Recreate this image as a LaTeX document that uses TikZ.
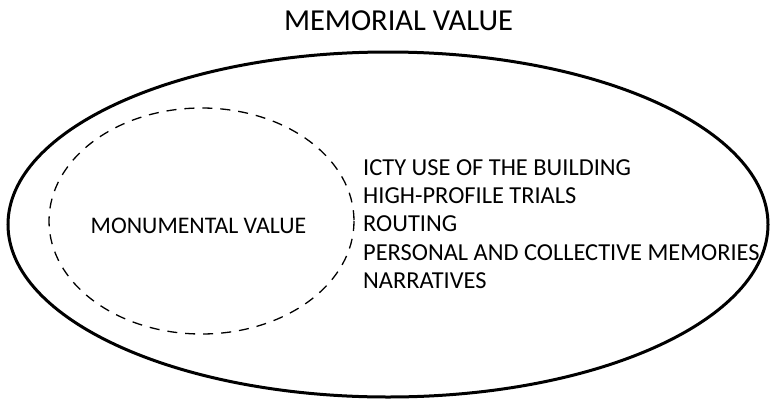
\documentclass[tikz,border=0pt]{standalone}
\usepackage{fontspec}
\setmainfont{Carlito}
\usetikzlibrary{positioning}
\newcommand{\sizelist}{\fontsize{24.4}{28}\selectfont}
\newcommand{\sizeinner}{\fontsize{23.8}{28}\selectfont}
\newcommand{\sizetitle}{\fontsize{30.5}{32}\selectfont}
\tikzset{
    value/.style={inner sep=0pt, anchor=base, font=\sizetitle},
    item/.style={inner sep=0pt, anchor=base west, font=\sizelist},
    outer/.style={draw, line width=3pt},
    inner/.style={draw, line width=1.3pt, dash pattern=on 10pt off 8pt},
}

\begin{document}
\begin{tikzpicture}[x=1pt, y=-1pt]
    \useasboundingbox (0,0) rectangle (770,399);

    \path[outer] (388,224.5) ellipse (380 and 172.5);
    \path[inner] (201.5,221) ellipse (152.5 and 113);

    \node[value] (memorial) at (398.5,30.5) {MEMORIAL VALUE};
    \node[value, font=\sizeinner] (monumental) at (198.5,233) {MONUMENTAL VALUE};

    \node[item] (icty) at (363,175) {ICTY USE OF THE BUILDING};
    \node[item] (trials) at (363,203.3) {HIGH-PROFILE TRIALS};
    \node[item] (routing) at (363,231.7) {ROUTING};
    \node[item] (memories) at (363,260) {PERSONAL AND COLLECTIVE MEMORIES};
    \node[item] (narratives) at (363,288.3) {NARRATIVES};
\end{tikzpicture}
\end{document}
